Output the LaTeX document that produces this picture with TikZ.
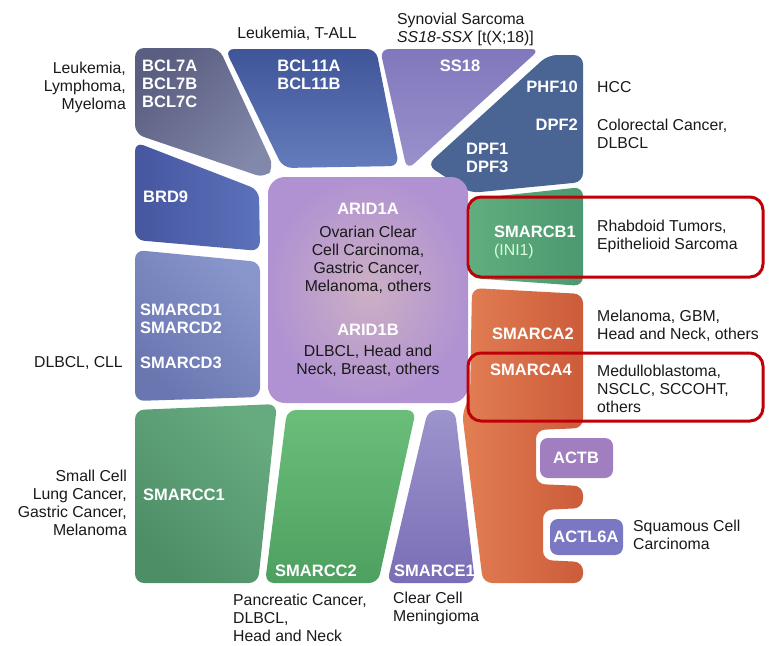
\documentclass[tikz,border=0pt]{standalone}
\usepackage{fontspec}
\setmainfont{Liberation Sans}
\definecolor{bclgrey}{HTML}{5A5E80}
\definecolor{bclgreyl}{HTML}{8288AA}
\definecolor{bclblue}{HTML}{3F5599}
\definecolor{bclbluel}{HTML}{647CBC}
\definecolor{ssviolet}{HTML}{8078BC}
\definecolor{ssvioletl}{HTML}{9A92CC}
\definecolor{dpfblue}{HTML}{4A6494}
\definecolor{brdblue}{HTML}{4656A0}
\definecolor{brdbluel}{HTML}{5C72BA}
\definecolor{cdblue}{HTML}{6A76B0}
\definecolor{cdbluel}{HTML}{8896CC}
\definecolor{aridpurple}{HTML}{B092D2}
\definecolor{aridpink}{HTML}{CDB0C4}
\definecolor{cbgreen}{HTML}{4C9870}
\definecolor{cbgreenl}{HTML}{60AE7E}
\definecolor{caorange}{HTML}{E27E54}
\definecolor{caoranged}{HTML}{CC5C3A}
\definecolor{ccgreen}{HTML}{4E8E66}
\definecolor{ccgreenl}{HTML}{66AA80}
\definecolor{cctwo}{HTML}{6ABE7A}
\definecolor{cctwod}{HTML}{4EA060}
\definecolor{ceviolet}{HTML}{9C94CC}
\definecolor{cevioletd}{HTML}{7A6EB6}
\definecolor{actbpurple}{HTML}{A07EC0}
\definecolor{actlblue}{HTML}{7A78C2}
\definecolor{hired}{HTML}{C00008}
\begin{document}
\begin{tikzpicture}[x=1pt, y=-1pt, every node/.style={inner sep=0pt},
    blk/.style={white, font=\fontsize{16.5}{18}\selectfont\bfseries},
    dis/.style={black!90, font=\fontsize{15.8}{18}\selectfont},
    part/.style={rounded corners=9pt},
    hlbox/.style={draw=hired, line width=3pt, rounded corners=13pt}]
    \useasboundingbox (0,0) rectangle (773,645);
    % subunit blocks
    \shade[part, top color=bclgrey, bottom color=bclgreyl, shading angle=45] (135,48) -- (219,48) -- (274,167) -- (265,178) -- (135,134) -- cycle;
    \shade[part, top color=bclblue, bottom color=bclbluel] (225,49) -- (376,49) -- (399,166) -- (283,168) -- cycle;
    \shade[part, top color=ssviolet, bottom color=ssvioletl] (380,49) -- (540,49) -- (407,170) -- cycle;
    \fill[part, dpfblue] (548,55) -- (583,55) -- (583,182) -- (470,193) -- (427,165) -- cycle;
    \shade[part, left color=brdblue, right color=brdbluel] (135,142) -- (259,190) -- (260,251) -- (135,240) -- cycle;
    \shade[part, top color=cdbluel, bottom color=cdblue, shading angle=-45] (135,250) -- (260,262) -- (260,397) -- (135,401) -- cycle;
    \shade[rounded corners=17pt, inner color=aridpink, outer color=aridpurple] (268,177) rectangle (468,403);
    \shade[part, left color=cbgreenl, right color=cbgreen] (470,199) -- (583,187) -- (583,286) -- (470,278) -- cycle;
    \shade[part, left color=caorange, right color=caoranged] (472,288) -- (583,294) -- (583,428) -- (536,430) -- (536,484) -- (583,486) -- (583,508) -- (543,510) -- (543,560) -- (583,562) -- (583,583) -- (483,583) -- (462,412) -- (470,398) -- cycle;
    \shade[part, top color=ccgreenl, bottom color=ccgreen, shading angle=-45] (135,410) -- (277,404) -- (258,583) -- (135,583) -- cycle;
    \shade[part, top color=cctwo, bottom color=cctwod] (287,410) -- (416,410) -- (378,583) -- (265,583) -- cycle;
    \shade[part, top color=ceviolet, bottom color=cevioletd] (428,410) -- (455,410) -- (475,583) -- (387,583) -- cycle;
    \fill[rounded corners=8pt, actbpurple] (540,438) rectangle (613,478);
    \fill[rounded corners=8pt, actlblue] (550,519) rectangle (623,555);
    % highlighted subunits
    \draw[hlbox] (468,197) rectangle (763,277);
    \draw[hlbox] (468,353) rectangle (763,421);
    % subunit names
    \node[blk, anchor=west, align=left] (bcl7) at (142,84) {BCL7A\\BCL7B\\BCL7C};
    \node[blk, align=center] (bcl11) at (309,75) {BCL11A\\BCL11B};
    \node[blk] (ss18) at (460,66) {SS18};
    \node[blk, anchor=east] (phf10) at (578,87) {PHF10};
    \node[blk, anchor=east] (dpf2) at (578,125) {DPF2};
    \node[blk, anchor=west, align=left] (dpf13) at (466,158) {DPF1\\DPF3};
    \node[blk, anchor=west] (brd9) at (143,197) {BRD9};
    \node[blk, anchor=west, align=left] (smarcd12) at (140,319) {SMARCD1\\SMARCD2};
    \node[blk, anchor=west] (smarcd3) at (140,363) {SMARCD3};
    \node[blk] (arid1a) at (368,209) {ARID1A};
    \node[blk] (arid1b) at (368,330) {ARID1B};
    \node[blk, anchor=west] (smarcb1) at (494,232) {SMARCB1};
    \node[anchor=west, white!85!green, font=\fontsize{15.8}{18}\selectfont] (ini1) at (494,251) {(INI1)};
    \node[blk, anchor=east] (smarca2) at (574,334) {SMARCA2};
    \node[blk, anchor=west] (smarca4) at (490,370) {SMARCA4};
    \node[blk, anchor=west] (smarcc1) at (143,495) {SMARCC1};
    \node[blk, anchor=west] (smarcc2) at (275,571) {SMARCC2};
    \node[blk, anchor=west] (smarce1) at (394,571) {SMARCE1};
    \node[blk] (actb) at (576,458) {ACTB};
    \node[blk] (actl6a) at (586,537) {ACTL6A};
    % cancers
    \node[dis, align=center] (arid1a-c) at (368,260) {Ovarian Clear\\Cell Carcinoma,\\Gastric Cancer,\\Melanoma, others};
    \node[dis, align=center] (arid1b-c) at (368,361) {DLBCL, Head and\\Neck, Breast, others};
    \node[dis, anchor=east, align=right] (bcl7-c) at (126,87) {Leukemia,\\Lymphoma,\\Myeloma};
    \node[dis] (bcl11-c) at (297,34) {Leukemia, T-ALL};
    \node[dis, anchor=west, align=left] (ss18-c) at (397,29) {Synovial Sarcoma\\\textit{SS18-SSX} [t(X;18)]};
    \node[dis, anchor=west] (phf10-c) at (597,87) {HCC};
    \node[dis, anchor=west, align=left] (dpf2-c) at (597,134) {Colorectal Cancer,\\DLBCL};
    \node[dis, anchor=west, align=left] (smarcb1-c) at (597,236) {Rhabdoid Tumors,\\Epithelioid Sarcoma};
    \node[dis, anchor=west, align=left] (smarca2-c) at (597,326) {Melanoma, GBM,\\Head and Neck, others};
    \node[dis, anchor=west, align=left] (smarca4-c) at (597,389) {Medulloblastoma,\\NSCLC, SCCOHT,\\others};
    \node[dis, anchor=west, align=left] (actl6a-c) at (633,535) {Squamous Cell\\Carcinoma};
    \node[dis, anchor=east] (smarcd-c) at (123,363) {DLBCL, CLL};
    \node[dis, anchor=east, align=right] (smarcc1-c) at (127,503) {Small Cell\\Lung Cancer,\\Gastric Cancer,\\Melanoma};
    \node[dis, anchor=west, align=left] (smarcc2-c) at (233,618) {Pancreatic Cancer,\\DLBCL,\\Head and Neck};
    \node[dis, anchor=west, align=left] (smarce1-c) at (393,608) {Clear Cell\\Meningioma};
\end{tikzpicture}
\end{document}
